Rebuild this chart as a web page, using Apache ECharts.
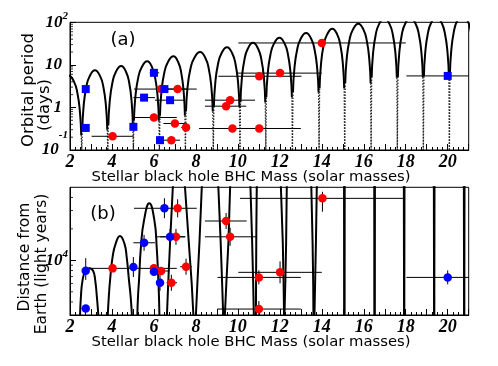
<!DOCTYPE html>
<html><head><meta charset="utf-8">
<script src="https://cdn.jsdelivr.net/npm/echarts@6/dist/echarts.min.js"></script>
<style>html,body{margin:0;padding:0;background:#fff}#c{width:498px;height:366px}</style>
</head><body><div id="c"></div>
<script>
// ---- axis tick data ----
const xLabelValues = [2, 4, 6, 8, 10, 12, 14, 16, 18, 20];
const topYMinor = [0.2,0.3,0.4,0.5,0.6,0.7,0.8,0.9, 2,3,4,5,6,7,8,9, 20,30,40,50,60,70,80,90];
const botYMinor = [4000,5000,6000,7000,8000,9000, 20000,30000,40000];

// ---- panel (a): [mass, period(days), massLo, massHi] ----
const topRed = [
  [4.03, 0.21, 3.03, 5.02],
  [6.34, 2.7, 5.05, 7.6],
  [7.13, 2.7, 6.3, 8.04],
  [6.0, 0.58, 4.97, 7.09],
  [7.0, 0.42, 6.45, 7.56],
  [7.53, 0.34, 7.3, 7.7],
  [6.83, 0.17, 6.43, 7.24],
  [9.63, 1.48, 8.43, 10.82],
  [9.44, 1.07, 8.43, 10.4],
  [9.74, 0.32, 8.15, 11.3],
  [11.02, 0.32, 9.3, 13.0],
  [11.02, 5.4, 9.07, 13.03],
  [12.01, 6.4, 10.0, 14.0],
  [14.0, 32.7, 10.02, 18.0]
];
const topBlue = [
  [2.75, 2.7, 2.75, 2.75],
  [2.75, 0.33, 2.75, 2.75],
  [5.02, 0.35, 5.02, 5.02],
  [6.0, 6.5, 5.8, 6.25],
  [5.53, 1.7, 5.02, 6.05],
  [6.5, 2.7, 6.3, 6.7],
  [6.77, 1.48, 6.05, 7.48],
  [6.29, 0.17, 6.15, 6.45],
  [20.0, 5.5, 18.03, 21.0]
];

// ---- panel (b): [mass, distance(ly), massLo, massHi, distLo, distHi] ----
const botRed = [
  [4.03, 8380, 2.75, 5.02, 8380, 8380],
  [7.13, 31500, 5.05, 8.04, 25800, 38400],
  [7.05, 16800, 6.3, 7.5, 14100, 20000],
  [6.0, 8380, 4.97, 7.09, 8380, 8380],
  [6.34, 7910, 6.0, 6.7, 7910, 7910],
  [6.83, 6100, 6.6, 7.1, 5110, 7280],
  [7.53, 8690, 7.25, 7.8, 7280, 10370],
  [9.44, 23800, 8.43, 10.42, 19950, 28400],
  [9.63, 16800, 8.43, 10.9, 13800, 20500],
  [11.0, 6870, 9.03, 13.0, 5890, 8020],
  [11.0, 3420, 9.02, 13.0, 2870, 4080],
  [12.01, 7680, 10.02, 14.0, 6030, 9780],
  [14.03, 39200, 10.1, 17.9, 29200, 45300]
];
const botBlue = [
  [2.75, 7950, 2.75, 2.75, 6500, 10500],
  [2.75, 3470, 2.75, 2.75, 3470, 3470],
  [5.02, 8630, 5.02, 5.02, 6930, 10750],
  [5.53, 14730, 5.02, 6.05, 12350, 17570],
  [6.5, 31500, 6.5, 6.5, 25280, 39250],
  [6.77, 16800, 6.05, 7.48, 14080, 20040],
  [6.0, 7780, 6.0, 6.0, 7780, 7780],
  [6.29, 6100, 6.29, 6.29, 5110, 7280],
  [20.0, 6870, 18.03, 21.0, 5890, 8020]
];

// ---- curves of panel (a) ----
const topArches = [
  [[1.32,0.1],[1.345,0.224],[1.407,0.79],[1.531,2.23],[1.692,4.05],[1.94,5.6],[2.188,4.05],[2.349,2.23],[2.473,0.79],[2.535,0.224],[2.56,0.1]],
  [[2.56,0.1],[2.585,0.3],[2.648,1.06],[2.774,2.99],[2.938,5.43],[3.19,7.5],[3.434,5.43],[3.593,2.99],[3.715,1.06],[3.776,0.3],[3.80,0.1]],
  [[3.80,0.1],[3.826,0.376],[3.890,1.325],[4.018,3.74],[4.184,6.81],[4.44,9.4],[4.672,6.81],[4.823,3.74],[4.939,1.325],[4.997,0.376],[5.02,0.1]],
  [[5.02,0.1],[5.046,0.484],[5.112,1.706],[5.244,4.82],[5.416,8.76],[5.68,12.1],[5.912,8.76],[6.063,4.82],[6.179,1.706],[6.237,0.484],[6.26,0.1]],
  [[6.26,0.1],[6.287,0.636],[6.354,2.24],[6.488,6.33],[6.662,11.5],[6.93,15.9],[7.158,11.5],[7.306,6.33],[7.42,2.24],[7.477,0.636],[7.50,0.1]],
  [[7.50,0.1],[7.528,0.8],[7.598,2.82],[7.738,7.96],[7.92,14.5],[8.20,20],[8.452,14.5],[8.616,7.96],[8.742,2.82],[8.805,0.8],[8.83,0.1]],
  [[8.83,0.1],[8.856,1.04],[8.921,3.67],[9.051,10.35],[9.22,18.8],[9.48,26],[9.728,18.8],[9.889,10.35],[10.013,3.67],[10.075,1.04],[10.10,0.1]],
  [[10.10,0.1],[10.125,1.32],[10.187,4.65],[10.311,13.1],[10.472,23.9],[10.72,33],[10.964,23.9],[11.123,13.1],[11.245,4.65],[11.306,1.32],[11.33,0.1]],
  [[11.33,0.1],[11.356,1.74],[11.421,6.13],[11.551,17.3],[11.72,31.5],[11.98,43.5],[12.228,31.5],[12.389,17.3],[12.513,6.13],[12.575,1.74],[12.60,0.1]],
  [[12.60,0.1],[12.626,2.24],[12.691,7.9],[12.821,22.3],[12.99,40.5],[13.25,56],[13.498,40.5],[13.659,22.3],[13.783,7.9],[13.845,2.24],[13.87,0.1]],
  [[13.87,0.1],[13.895,2.84],[13.958,10.0],[14.084,28.3],[14.248,51.4],[14.50,71],[14.736,51.4],[14.889,28.3],[15.007,10.0],[15.066,2.84],[15.09,0.1]],
  [[15.09,0.1],[15.116,3.72],[15.181,13.1],[15.311,37.0],[15.48,67.3],[15.74,93],[15.984,67.3],[16.143,37.0],[16.265,13.1],[16.326,3.72],[16.35,0.1]],
  [[16.35,0.1],[16.375,5.0],[16.438,17.6],[16.564,49.8],[16.728,90.5],[16.98,125],[17.228,90.5],[17.389,49.8],[17.513,17.6],[17.575,5.0],[17.60,0.1]],
  [[17.60,0.1],[17.625,5.12],[17.687,18.0],[17.811,50.9],[17.972,92.7],[18.22,128],[18.468,92.7],[18.629,50.9],[18.753,18.0],[18.815,5.12],[18.84,0.1]],
  [[18.84,0.1],[18.865,5.4],[18.927,19.0],[19.051,53.7],[19.212,97.7],[19.46,135],[19.708,97.7],[19.869,53.7],[19.993,19.0],[20.055,5.4],[20.08,0.1]],
  [[20.08,0.1],[20.105,6.0],[20.167,21.2],[20.291,59.7],[20.452,108.6],[20.70,150],[20.948,108.6],[21.109,59.7],[21.233,21.2],[21.295,6.0],[21.32,0.1]]
];

// ---- curves of panel (b) ----
const botArchesLow = [
  [[2.48,3000],[2.52,4490],[2.6,6470],[2.74,7950],[2.92,8400],[3.1,7950],[3.2,6470],[3.28,4490],[3.35,3000]],
  [[3.80,3000],[3.85,4500],[3.91,6470],[4.03,10800],[4.18,14550],[4.38,17100],[4.59,14550],[4.70,10800],[4.81,6470],[4.89,4500],[4.95,3000]],
  [[5.21,3000],[5.24,4500],[5.29,6470],[5.38,13500],[5.53,24300],[5.78,35100],[6.02,24300],[6.13,13500],[6.21,6470],[6.24,4500],[6.26,3000]]
];
const botArchesHigh = [
  [[6.62,3000],[6.68,6000],[6.77,15000],[6.9,50000],[7.2,90000],[7.48,50000],[7.66,15000],[7.8,6000],[7.88,3000]],
  [[8.0,3000],[8.07,6000],[8.17,15000],[8.28,50000],[8.68,150000],[9.07,50000],[9.18,15000],[9.25,6000],[9.3,3000]],
  [[9.38,3000],[9.45,6000],[9.55,15000],[9.63,50000],[10.1,200000],[10.6,50000],[10.68,15000],[10.73,6000],[10.76,3000]],
  [[10.86,3000],[10.87,8000],[10.88,20000],[10.9,50000],[11.5,500000],[12.05,50000],[12.14,15000],[12.18,6000],[12.2,3000]],
  [[12.22,3000],[12.26,6000],[12.3,15000],[12.33,50000],[12.9,500000],[13.5,50000],[13.56,15000],[13.59,6000],[13.6,3000]],
  [[13.65,3000],[13.68,6000],[13.72,15000],[13.76,50000],[14.4,500000],[15.06,50000],[15.07,3000]],
  [[15.08,3000],[15.09,50000],[15.8,500000],[16.5,50000],[16.51,3000]],
  [[16.52,3000],[16.53,50000],[17.2,500000],[17.91,50000],[17.92,3000]],
  [[17.93,3000],[17.94,50000],[18.6,500000],[19.34,50000],[19.35,3000]],
  [[19.36,3000],[19.37,50000],[20.0,500000],[20.77,50000],[20.78,3000]],
  [[20.79,3000],[20.80,50000],[21.5,500000]]
];

const chart = echarts.init(document.getElementById('c'), null, {renderer: 'canvas'});
const numFont = {fontFamily: 'Liberation Serif', fontStyle: 'italic', fontWeight: 'bold', color: '#000'};
const titleFont = 'DejaVu Sans';

function near(a, b) { return Math.abs(a - b) <= Math.abs(b) * 1e-6; }

function xAxisCfg(gi) {
  return {
    type: 'value', gridIndex: gi, min: 2, max: 21, interval: 1,
    axisLine: {show: true, onZero: false, lineStyle: {color: '#000', width: 1}},
    axisTick: {show: true, inside: true, length: 6, lineStyle: {color: '#000', width: 1}},
    minorTick: {show: true, splitNumber: 4, length: 3, lineStyle: {color: '#000', width: 1}},
    splitLine: {show: false},
    axisLabel: Object.assign({}, numFont, {fontSize: 18, margin: 3, interval: 0,
      formatter: v => (xLabelValues.indexOf(v) >= 0 ? String(v) : '')})
  };
}

const richBase = {
  n: Object.assign({}, numFont, {fontSize: 17, lineHeight: 24}),
  p: Object.assign({}, numFont, {fontSize: 17, lineHeight: 24, padding: [0, 6, 0, 0]}),
  s: Object.assign({}, numFont, {fontSize: 11, lineHeight: 12, verticalAlign: 'top'}),
  nn: Object.assign({}, numFont, {fontSize: 17, lineHeight: 40}),
  m: Object.assign({}, numFont, {fontSize: 11, lineHeight: 12, verticalAlign: 'top'})
};

function lineSeries(pts, xi, yi, smooth, style) {
  return {
    type: 'line', xAxisIndex: xi, yAxisIndex: yi, data: pts, smooth: smooth,
    symbol: 'none', showSymbol: false, clip: true, silent: true, z: 2, lineStyle: style
  };
}
const solidStyle = {color: '#000', width: 2};
const dotStyle = {color: '#222', width: 1.3, type: [1.5, 1.5]};

// top arches: steep feet drawn dotted, body solid
function topArchSeries(list) {
  const out = [];
  list.forEach(pts => {
    const n = pts.length;
    out.push(lineSeries(pts.slice(1, n - 1), 0, 0, true, solidStyle));
    out.push(lineSeries([pts[0], pts[1]], 0, 0, false, dotStyle));
    out.push(lineSeries([pts[n - 2], pts[n - 1]], 0, 0, false, dotStyle));
  });
  return out;
}

function errSeries(data, xi, yi, hasY) {
  return {
    type: 'custom', xAxisIndex: xi, yAxisIndex: yi, clip: true, silent: true, z: 3,
    encode: {x: 0, y: 1}, data: data,
    renderItem: function (params, api) {
      const x = api.value(0), y = api.value(1), lo = api.value(2), hi = api.value(3);
      const ch = [];
      if (hi > lo) {
        const a = api.coord([lo, y]), b = api.coord([hi, y]);
        ch.push({type: 'line', shape: {x1: a[0], y1: a[1], x2: b[0], y2: b[1]}, style: {stroke: '#000', lineWidth: 1}});
      }
      if (hasY) {
        const dl = api.value(4), dh = api.value(5);
        if (dh > dl) {
          const a = api.coord([x, dl]), b = api.coord([x, dh]);
          ch.push({type: 'line', shape: {x1: a[0], y1: a[1], x2: b[0], y2: b[1]}, style: {stroke: '#000', lineWidth: 1}});
        }
      }
      return {type: 'group', children: ch};
    }
  };
}

function markSeries(data, xi, yi, color, symbol, size) {
  return {
    type: 'scatter', xAxisIndex: xi, yAxisIndex: yi, symbol: symbol, symbolSize: size,
    data: data.map(d => [d[0], d[1]]), itemStyle: {color: color, opacity: 1}, z: 5, silent: true, clip: false
  };
}

function minorTickSeries(vals, yi) {
  return {
    type: 'scatter', xAxisIndex: yi, yAxisIndex: yi, symbol: 'rect', symbolSize: [3, 1], symbolOffset: [1.5, 0],
    data: vals.map(v => [2, v]), itemStyle: {color: '#000'}, z: 6, silent: true, clip: false
  };
}

const series = [].concat(
  topArchSeries(topArches),
  botArchesLow.map(p => lineSeries(p, 1, 1, true, solidStyle)),
  botArchesHigh.map(p => lineSeries(p, 1, 1, false, solidStyle)),
  [errSeries(topRed, 0, 0, false), errSeries(topBlue, 0, 0, false),
   errSeries(botRed, 1, 1, true), errSeries(botBlue, 1, 1, true),
   markSeries(topRed, 0, 0, '#ff0000', 'circle', 8.5),
   markSeries(topBlue, 0, 0, '#0000ff', 'rect', 8),
   markSeries(botRed, 1, 1, '#ff0000', 'circle', 8.5),
   markSeries(botBlue, 1, 1, '#0000ff', 'circle', 8.5),
   minorTickSeries(topYMinor, 0), minorTickSeries(botYMinor, 1)]
);

function vtext(txt, x, y, size) {
  return {type: 'text', x: x, y: y, rotation: Math.PI / 2, silent: true,
    style: {text: txt, fontFamily: titleFont, fontSize: size, fill: '#000', align: 'center', verticalAlign: 'middle'}};
}
function htext(txt, x, y, size) {
  return {type: 'text', x: x, y: y, silent: true,
    style: {text: txt, fontFamily: titleFont, fontSize: size, fill: '#000', align: 'center', verticalAlign: 'middle'}};
}

const option = {
  animation: false,
  backgroundColor: '#fff',
  grid: [
    {left: 70, top: 22.3, width: 398.7, height: 127.7, show: true, borderColor: '#000', borderWidth: 1, backgroundColor: 'transparent'},
    {left: 70, top: 187.3, width: 398.7, height: 127.7, show: true, borderColor: '#000', borderWidth: 1, backgroundColor: 'transparent'}
  ],
  xAxis: [xAxisCfg(0), xAxisCfg(1)],
  yAxis: [
    {type: 'log', gridIndex: 0, logBase: 10, min: 0.1, max: 100,
      axisLine: {show: true, lineStyle: {color: '#000', width: 1}},
      axisTick: {show: true, inside: true, length: 6, lineStyle: {color: '#000'}},
      splitLine: {show: false},
      axisLabel: {margin: 2, rich: richBase,
        formatter: v => near(v, 100) ? '{n|10}{s|2}' : near(v, 10) ? '{p|10}' : near(v, 1) ? '{p|1}' : near(v, 0.1) ? '{nn|10}{m|-1}' : ''}},
    {type: 'log', gridIndex: 1, logBase: 10, min: 3000, max: 50000,
      axisLine: {show: true, lineStyle: {color: '#000', width: 1}},
      axisTick: {show: true, inside: true, length: 6, lineStyle: {color: '#000'}},
      splitLine: {show: false},
      axisLabel: {margin: 2, rich: richBase, showMinLabel: false, showMaxLabel: false,
        formatter: v => near(v, 10000) ? '{n|10}{s|4}' : ''}}
  ],
  graphic: [
    htext('(a)', 123, 40, 18),
    htext('(b)', 103, 214, 18),
    htext('Stellar black hole BHC Mass (solar masses)', 251, 177, 14.8),
    htext('Stellar black hole BHC Mass (solar masses)', 251, 342, 14.8),
    vtext('Orbital period', 29, 90, 16.5),
    vtext('(days)', 45, 105, 16.5),
    vtext('Distance from', 25, 257, 15.5),
    vtext('Earth (light years)', 42, 264, 15.5)
  ],
  series: series
};
chart.setOption(option);
</script>
</body></html>
